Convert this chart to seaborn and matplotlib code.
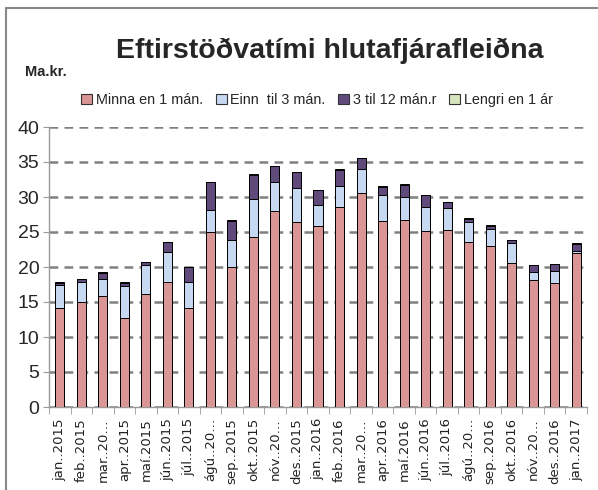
import matplotlib
matplotlib.use("Agg")
import matplotlib.pyplot as plt
from matplotlib import font_manager
from matplotlib.patches import Patch
from matplotlib.lines import Line2D
import numpy as np
import pandas as pd
import seaborn as sns

# data (Ma.kr.)
months = [
    "jan..2015", "feb..2015", "mar..20…", "apr..2015", "maí.2015", "jún..2015",
    "júl..2015", "ágú..20…", "sep..2015", "okt..2015", "nóv..20…", "des..2015",
    "jan..2016", "feb..2016", "mar..20…", "apr..2016", "maí.2016", "jún..2016",
    "júl..2016", "ágú..20…", "sep..2016", "okt..2016", "nóv..20…", "des..2016",
    "jan..2017",
]
minna_1 = [14.1, 15.0, 15.85, 12.65, 16.2, 17.85, 14.2, 25.0, 20.0, 24.35, 27.95, 26.4,
           25.9, 28.6, 30.5, 26.6, 26.7, 25.15, 25.3, 23.6, 22.95, 20.55, 18.2, 17.75, 21.95]
einn_3 = [3.3, 2.85, 2.45, 4.6, 4.15, 4.25, 3.6, 3.15, 3.85, 5.35, 4.25, 4.85,
          3.0, 3.0, 3.5, 3.75, 3.3, 3.45, 3.15, 2.8, 2.5, 2.85, 1.1, 1.75, 0.35]
til_12 = [0.35, 0.45, 0.85, 0.5, 0.3, 1.45, 2.15, 3.95, 2.75, 3.5, 2.2, 2.25,
          2.1, 2.3, 1.55, 1.1, 1.7, 1.7, 0.8, 0.5, 0.45, 0.5, 0.95, 0.9, 1.0]
lengri_1 = [0.05, 0.0, 0.15, 0.1, 0.05, 0.05, 0.0, 0.05, 0.05, 0.15, 0.05, 0.05,
            0.0, 0.15, 0.05, 0.15, 0.15, 0.05, 0.0, 0.05, 0.05, 0.0, 0.0, 0.0, 0.1]
series_names = ["Minna en 1 mán.", "Einn  til 3 mán.", "3 til 12 mán.r", "Lengri en 1 ár"]
colors = ["#D99694", "#C6D9F1", "#604A7B", "#D7E4BD"]

available = {f.name for f in font_manager.fontManager.ttflist}
narrow = "Liberation Sans Narrow" if "Liberation Sans Narrow" in available else "Liberation Sans"

sns.set_style("white")
plt.rcParams["font.family"] = ["DejaVu Sans"]

# month labels repeat after truncation, so bars are placed by position
df = pd.DataFrame({"pos": np.arange(len(months)), "s0": minna_1, "s1": einn_3,
                   "s2": til_12, "s3": lengri_1})
stack = df[["s0", "s1", "s2", "s3"]].cumsum(axis=1)

fig = plt.figure(figsize=(5.98, 4.90), dpi=100)
ax = fig.add_axes([49 / 598, 83 / 490, 538 / 598, 280 / 490])

# draw cumulative totals, tallest first, so each lower layer covers the one above
for i in range(3, -1, -1):
    sns.barplot(x=df["pos"], y=stack[f"s{i}"], color=colors[i], width=0.42,
                edgecolor="black", linewidth=0.7, saturation=1, ax=ax, zorder=3)

ax.set_ylim(0, 40)
ax.set_xlim(-0.5, len(months) - 0.5)
ax.set_yticks(np.arange(0, 41, 5))
ax.set_xlabel("")
ax.set_ylabel("")
ax.yaxis.grid(True, color="#808080", linestyle=(0, (3.5, 2.5)), linewidth=1.8, zorder=0)
ax.xaxis.grid(False)
for side in ["top", "right"]:
    ax.spines[side].set_visible(False)
for side in ["left", "bottom"]:
    ax.spines[side].set_color("#999999")
    ax.spines[side].set_linewidth(1.0)

ax.tick_params(axis="y", length=4, color="#999999", labelsize=14, pad=3, left=True)
for lab in ax.get_yticklabels():
    lab.set_family(narrow)
ax.set_xticks(range(len(months)))
ax.set_xticklabels(months, rotation=90, fontsize=9.5, color="#222222")
ax.tick_params(axis="x", which="major", length=0, pad=8)
ax.set_xticks(np.arange(-0.5, len(months), 1), minor=True)
ax.tick_params(axis="x", which="minor", length=5, color="#999999", bottom=True)

fig.text(0.552, 0.897, "Eftirstöðvatími hlutafjárafleiðna", ha="center", va="center",
         fontsize=20.5, fontweight="bold", family=narrow)
fig.text(0.042, 0.853, "Ma.kr.", ha="left", va="center", fontsize=10.5,
         fontweight="bold", family=narrow)

handles = [Patch(facecolor=c, edgecolor="#333333", linewidth=0.8) for c in colors]
fig.legend(handles, series_names, loc="center", bbox_to_anchor=(0.53, 0.796), ncol=4,
           frameon=False, prop={"family": narrow, "size": 10.4}, handlelength=0.75,
           handleheight=0.75, handletextpad=0.25, columnspacing=0.9)

# outer chart frame (left and top edges)
fig.add_artist(Line2D([6 / 598, 6 / 598], [0, 1 - 8 / 490], color="#888888", lw=1.5))
fig.add_artist(Line2D([6 / 598, 1], [1 - 8 / 490, 1 - 8 / 490], color="#888888", lw=1.5))

fig.savefig("out.png", dpi=100)
